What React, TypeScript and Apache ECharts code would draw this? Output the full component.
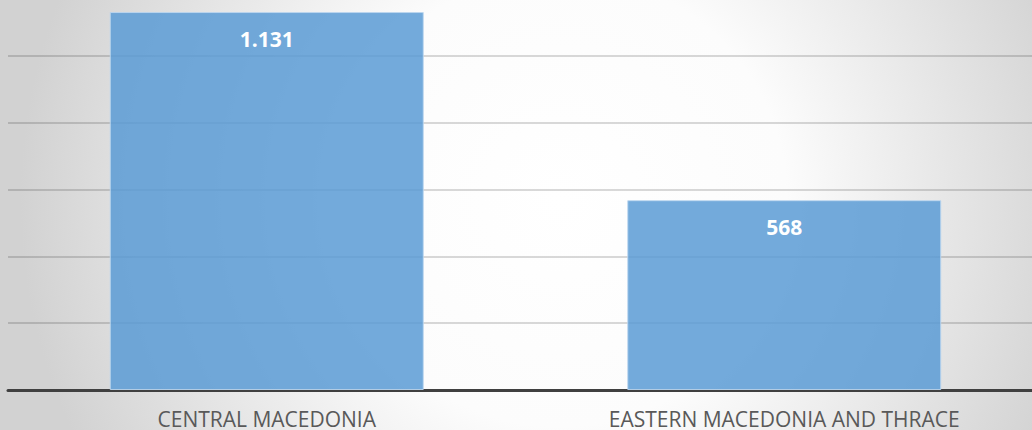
import React, { useEffect, useRef } from "react";
import * as echarts from "echarts";

const categories = ["CENTRAL MACEDONIA", "EASTERN MACEDONIA AND THRACE"];
const values = [1131, 568];
const yTicks = [0, 200, 400, 600, 800, 1000, 1200];

const fmt = (v: number) => String(v).replace(/\B(?=(\d{3})+(?!\d))/g, ".");

export default function App() {
  const ref = useRef<HTMLDivElement>(null);
  useEffect(() => {
    document.body.style.margin = "0";
    const chart = echarts.init(ref.current!, null, { renderer: "svg" });
    chart.setOption({
      animation: false,
      backgroundColor: "transparent",
      grid: { left: 8, width: 1035, top: 0, bottom: 40, containLabel: false },
      xAxis: {
        type: "category",
        data: categories,
        axisLine: { lineStyle: { color: "#404040", width: 3 } },
        axisTick: { show: false },
        axisLabel: {
          color: "#595959",
          fontSize: 21,
          fontFamily: "Open Sans",
          margin: 18,
          interval: 0,
        },
      },
      yAxis: {
        type: "value",
        min: yTicks[0],
        max: yTicks[yTicks.length - 1],
        interval: 200,
        axisLabel: { show: false },
        axisLine: { show: false },
        axisTick: { show: false },
        splitLine: { lineStyle: { color: "rgba(0,0,0,0.2)", width: 1.5 } },
      },
      series: [
        {
          type: "bar",
          data: values,
          barWidth: 314,
          itemStyle: {
            color: "rgba(91,155,213,0.85)",
            borderColor: "rgba(190,215,240,0.9)",
            borderWidth: 1,
          },
          label: {
            show: true,
            position: "insideTop",
            distance: 16,
            color: "#ffffff",
            fontSize: 21,
            fontWeight: "bold",
            fontFamily: "Open Sans",
            formatter: (p: any) => fmt(p.value),
          },
        },
      ],
    });
    return () => chart.dispose();
  }, []);
  return (
    <div
      style={{
        position: "relative",
        width: 1032,
        height: 430,
        overflow: "hidden",
        background:
          "radial-gradient(circle 540px at 560px 200px, #ffffff 0%, #fcfcfc 42%, #d2d2d2 100%)",
      }}
    >
      <div
        ref={ref}
        style={{ position: "absolute", left: 0, top: -11, width: 1050, height: 441 }}
      />
    </div>
  );
}
